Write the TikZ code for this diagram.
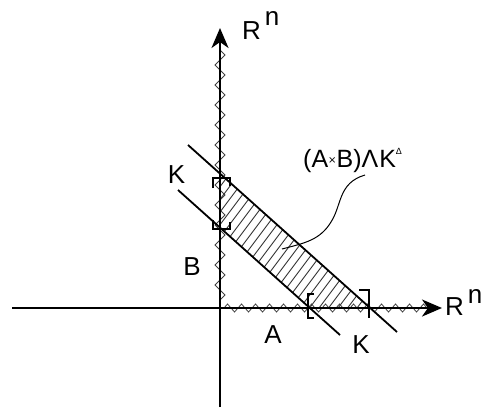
\documentclass[tikz,border=0pt]{standalone}
\usepackage{fontspec}
\setmainfont{Liberation Sans}
\newfontfamily\symf{DejaVu Sans}
\usetikzlibrary{arrows.meta,decorations.pathmorphing}
\begin{document}
\begin{tikzpicture}[x=1pt,y=-1pt,
  axisline/.style={line width=2.6pt,-{Stealth[length=20pt,width=17pt,inset=6pt]}},
  kline/.style={line width=1.8pt},
  hatchline/.style={line width=0.9pt,black!80},
  zig/.style={line width=0.8pt,black!75,decorate,decoration={zigzag,amplitude=#1}},
  brk/.style={line width=1.8pt},
  leader/.style={line width=1pt},
  big/.style={inner sep=0pt,font=\fontsize{26}{28}\selectfont},
  mid/.style={inner sep=0pt,font=\fontsize{25}{27}\selectfont}]
\useasboundingbox (0,0) rectangle (486,414);
% coordinates
\coordinate (O) at (220,308);
\coordinate (xl) at (12,308);
\coordinate (xr) at (442,308);
\coordinate (yb) at (220,407);
\coordinate (yt) at (220,28);
\coordinate (k1a) at (188,145);
\coordinate (k1b) at (397,332);
\coordinate (k2a) at (178,190);
\coordinate (k2b) at (340,335);
% hatched region
\begin{scope}
  \clip (220,173.6) -- (369.5,307.5) -- (309.5,307.5) -- (220,227.6) -- cycle;
  \foreach \i in {0,...,32}
    \draw[hatchline] (120+\i*9.5,320) -- ++(120,-160);
\end{scope}
% zigzag marks along axes
\draw[zig=5pt,decoration={segment length=20pt}] (220,50) -- (220,304);
\draw[zig=4pt,decoration={segment length=14pt}] (224,308) -- (428,308);
% axes
\draw[axisline] (xl) -- (xr);
\draw[axisline] (yb) -- (yt);
% K lines
\draw[kline] (k1a) -- (k1b);
\draw[kline] (k2a) -- (k2b);
% brackets
\draw[brk] (213,188) -- (213,178) -- (230,178) -- (230,186);
\draw[brk] (213,220) -- (213,229) -- (230,229) -- (230,222);
\draw[brk] (314,294) -- (308,294) -- (308,318) -- (314,318);
\draw[brk] (359,290) -- (369,290) -- (369,318);
% labels
\node[big,anchor=base west] (rtop) at (242,40) {R\hspace{4pt}\raisebox{14pt}{n}};
\node[big,anchor=base west] (rright) at (445,315) {R\hspace{4pt}\raisebox{12pt}{n}};
\node[big,anchor=base] (kleft) at (176.5,183) {K};
\node[big,anchor=base] (kbot) at (361,353) {K};
\node[big,anchor=base] (la) at (273,343) {A};
\node[big,anchor=base] (lb) at (192,275) {B};
\node[mid,anchor=base west] (lab) at (303,167)
  {(A{\symf\fontsize{10}{10}\selectfont\raisebox{4pt}{×}}B)Λ\hspace{1pt}K\raisebox{13pt}{\fontsize{9}{9}\selectfont Δ}};
% leader
\coordinate (ls) at (365,175);
\coordinate (le) at (282,249);
\draw[leader] (ls) .. controls (338,183) and (342,205) .. (331,222)
  .. controls (320,240) and (305,243) .. (le);
\end{tikzpicture}
\end{document}
